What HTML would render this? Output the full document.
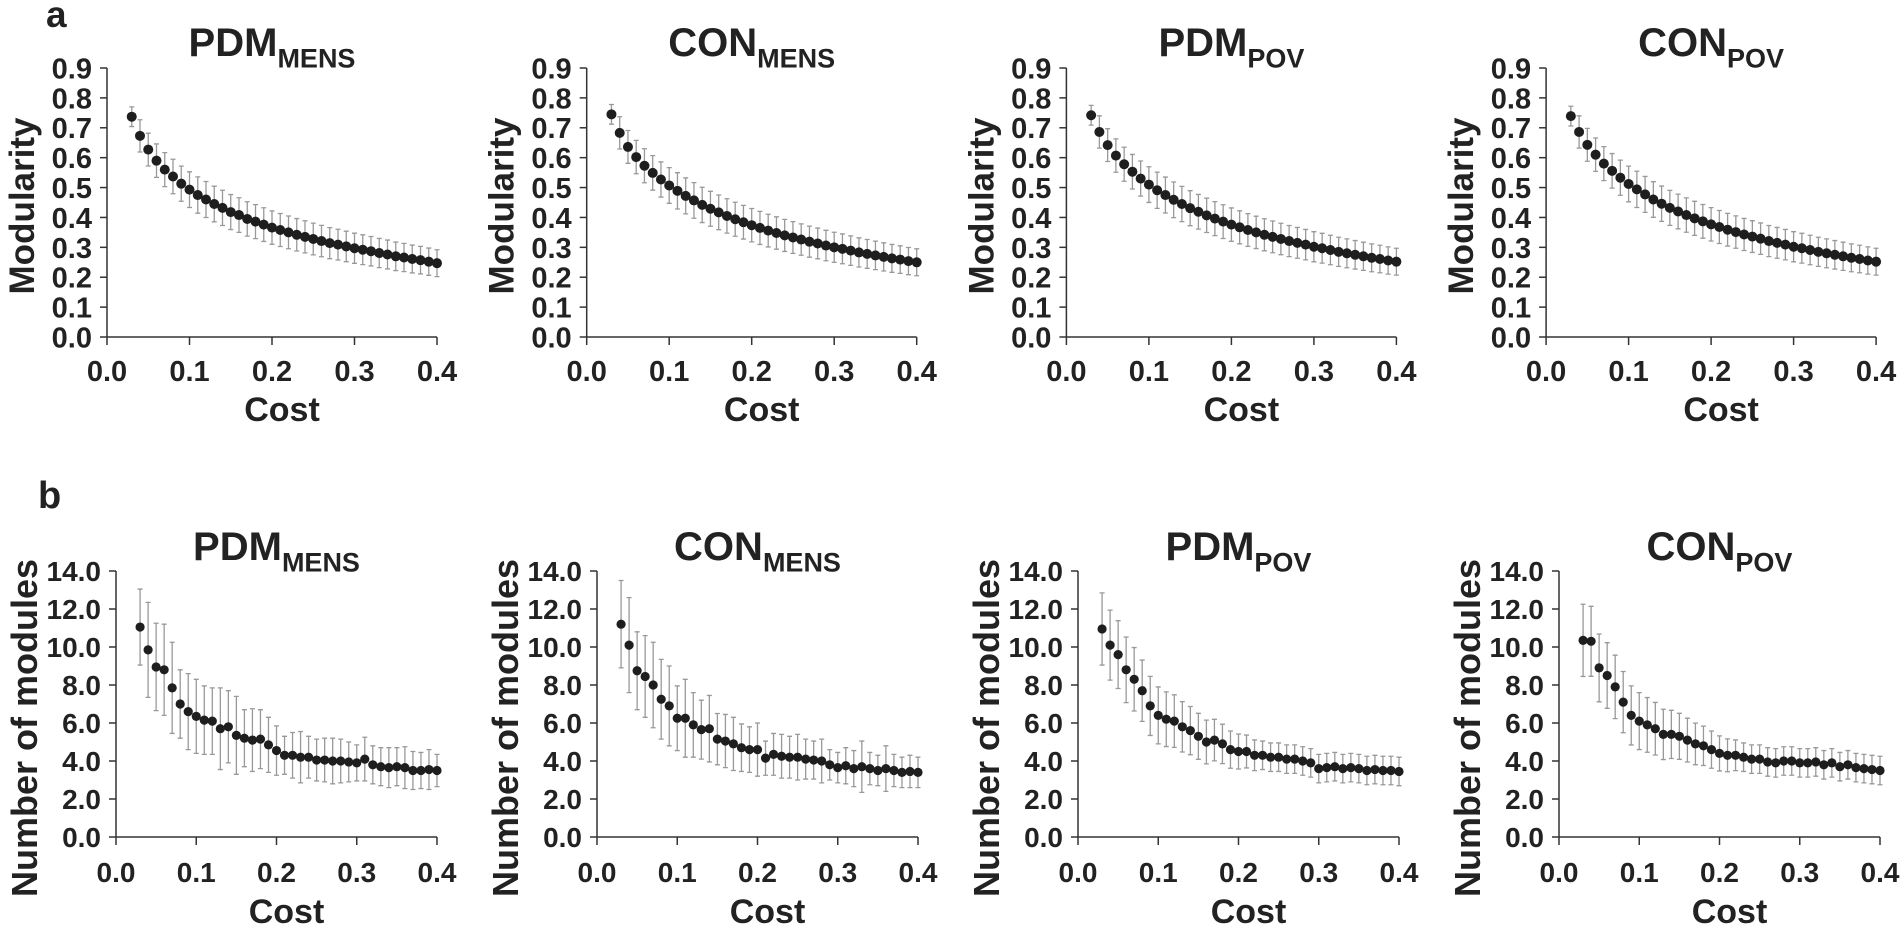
<!DOCTYPE html>
<html><head><meta charset="utf-8"><style>
html,body{margin:0;padding:0;background:#fff;}
svg{display:block;font-family:"Liberation Sans",Arial,sans-serif;font-weight:bold;}
</style></head><body>
<svg id="s" width="1900" height="928" viewBox="0 0 1900 928" xmlns="http://www.w3.org/2000/svg">
<text x="46" y="27" font-size="37" fill="#222">a</text>
<text x="38" y="508" font-size="38" fill="#222">b</text>
</svg>
<script>
const S=document.getElementById('s');let h='';
const xs=[];for(let i=3;i<=40;i++)xs.push(i/100);
const A=[
 [.737,.673,.627,.59,.56,.537,.513,.493,.475,.46,.445,.432,.418,.408,.395,.386,.376,.366,.358,.35,.342,.335,.328,.321,.314,.309,.303,.297,.292,.287,.281,.276,.27,.266,.261,.257,.252,.247],
 [.745,.683,.636,.602,.573,.549,.527,.507,.489,.472,.457,.442,.429,.417,.405,.394,.384,.374,.365,.356,.348,.34,.333,.326,.319,.313,.306,.3,.295,.289,.283,.278,.273,.268,.263,.259,.254,.25],
 [.742,.686,.642,.607,.578,.553,.53,.51,.491,.475,.459,.445,.431,.419,.407,.396,.386,.376,.367,.358,.35,.342,.335,.328,.321,.315,.309,.302,.297,.291,.285,.28,.275,.27,.265,.261,.256,.252],
 [.739,.686,.643,.61,.58,.556,.533,.512,.494,.477,.46,.446,.432,.42,.408,.397,.387,.377,.368,.359,.351,.343,.336,.329,.321,.315,.309,.302,.297,.291,.285,.28,.275,.27,.265,.261,.256,.252]];
function aerr(i){return i==0?.033:(.053+.012*Math.min(1,i/8)-.02*(i/37));}
const B=[
 [11.05,9.85,8.95,8.8,7.85,7.0,6.6,6.35,6.15,6.1,5.7,5.8,5.35,5.2,5.1,5.15,4.85,4.55,4.3,4.3,4.2,4.2,4.05,4.05,4.0,4.0,3.95,3.9,4.1,3.8,3.7,3.65,3.7,3.65,3.5,3.5,3.55,3.5],
 [11.2,10.1,8.75,8.45,8.0,7.25,6.9,6.25,6.25,5.9,5.65,5.7,5.15,5.05,4.9,4.7,4.6,4.6,4.15,4.35,4.25,4.2,4.2,4.1,4.05,4.0,3.8,3.65,3.75,3.6,3.7,3.6,3.5,3.6,3.5,3.4,3.45,3.4],
 [10.95,10.1,9.6,8.8,8.3,7.7,6.9,6.4,6.2,6.1,5.8,5.6,5.3,5.0,5.1,4.9,4.6,4.5,4.5,4.3,4.3,4.2,4.2,4.1,4.1,4.0,3.9,3.6,3.65,3.7,3.6,3.65,3.6,3.5,3.55,3.5,3.5,3.45],
 [10.35,10.3,8.9,8.5,7.9,7.1,6.4,6.1,5.9,5.7,5.4,5.4,5.3,5.1,4.9,4.8,4.6,4.4,4.3,4.3,4.2,4.1,4.1,3.95,3.9,4.0,4.0,3.9,3.9,3.95,3.8,3.9,3.7,3.8,3.65,3.6,3.55,3.5]];
const BU=[
 [13.05,12.35,11.25,11.2,10.25,8.8,8.6,8.3,7.95,7.85,7.85,7.7,7.4,6.7,6.75,6.7,6.3,5.85,5.3,5.5,5.55,5.3,5.15,5.2,5.2,5.15,5.0,4.85,5.25,4.8,4.7,4.7,4.7,4.75,4.5,4.45,4.6,4.35],
 [13.5,12.6,10.8,10.6,10.25,9.35,9.0,7.95,8.3,7.6,7.2,7.45,6.5,6.45,6.3,5.95,5.8,6.0,5.05,5.45,5.4,5.3,5.4,5.15,5.05,5.15,4.6,4.45,4.7,4.55,5.05,4.45,4.3,4.8,4.35,4.2,4.3,4.2]];
function berr(p,i){if(p<2)return BU[p][i]-B[p][i];return Math.max(.75,1.9-1.15*i/20);}
const titles=[['PDM','MENS'],['CON','MENS'],['PDM','POV'],['CON','POV']];
function panel(ox,w,top,bot,ymax,ystep,vals,err,tf,sf,tb,lf,ylab,ylf,ylx,cy,costy,costf,tickf,xty,r){
 const yv=v=>bot-(v/ymax)*(bot-top), xv=c=>ox+c/0.4*w;
 h+=`<line x1="${ox}" y1="${top}" x2="${ox}" y2="${bot}" stroke="#333" stroke-width="1.5"/>`;
 h+=`<line x1="${ox}" y1="${bot}" x2="${ox+w}" y2="${bot}" stroke="#333" stroke-width="1.5"/>`;
 for(let v=0;v<=ymax+1e-9;v+=ystep){const y=yv(v);h+=`<line x1="${ox-7}" y1="${y}" x2="${ox}" y2="${y}" stroke="#333" stroke-width="1.5"/>`;
  h+=`<text x="${ox-15}" y="${y+tickf*0.36}" font-size="${tickf}" text-anchor="end" fill="#222">${v.toFixed(1)}</text>`;}
 for(let k=0;k<=4;k++){const x=xv(k/10);h+=`<line x1="${x}" y1="${bot}" x2="${x}" y2="${bot+8}" stroke="#333" stroke-width="1.5"/>`;
  h+=`<text x="${x}" y="${xty}" font-size="${tickf}" text-anchor="middle" fill="#222">${(k/10).toFixed(1)}</text>`;}
 vals.forEach((v,i)=>{const x=xv(xs[i]),e=err(i),y1=yv(v+e),y2=yv(v-e);
  h+=`<path d="M${x} ${y1}V${y2}M${x-2.5} ${y1}H${x+2.5}M${x-2.5} ${y2}H${x+2.5}" stroke="#999" stroke-width="1.3" fill="none"/>`;});
 vals.forEach((v,i)=>{h+=`<circle cx="${xv(xs[i])}" cy="${yv(v)}" r="${r}" fill="#1e1e1e"/>`;});
 h+=`<text x="${ox+w/2+10}" y="${costy}" font-size="${costf}" text-anchor="middle" fill="#222">Cost</text>`;
 h+=`<text transform="translate(${ylx},${cy}) rotate(-90)" font-size="${ylf}" text-anchor="middle" fill="#222">${ylab}</text>`;
 h+=`<text x="${ox+w/2}" y="${tb}" font-size="${tf}" text-anchor="middle" fill="#222">${lf[0]}<tspan font-size="${sf}" dy="${sf*0.42}">${lf[1]}</tspan></text>`;
}
for(let p=0;p<4;p++){
 const oa=107+479.7*p;
 panel(oa,330,68,337,0.9,0.1,A[p],aerr,40,27,56,titles[p],'Modularity',35,oa-73,206,421,34,29,381,5);
 const ob=116+481*p;
 panel(ob,321,571,837,14,2,B[p],i=>berr(p,i),40,27,560,titles[p],'Number of modules',36,ob-79,728,923,34,28,882,4.6);
}
S.insertAdjacentHTML('beforeend',h);
</script>
</body></html>
